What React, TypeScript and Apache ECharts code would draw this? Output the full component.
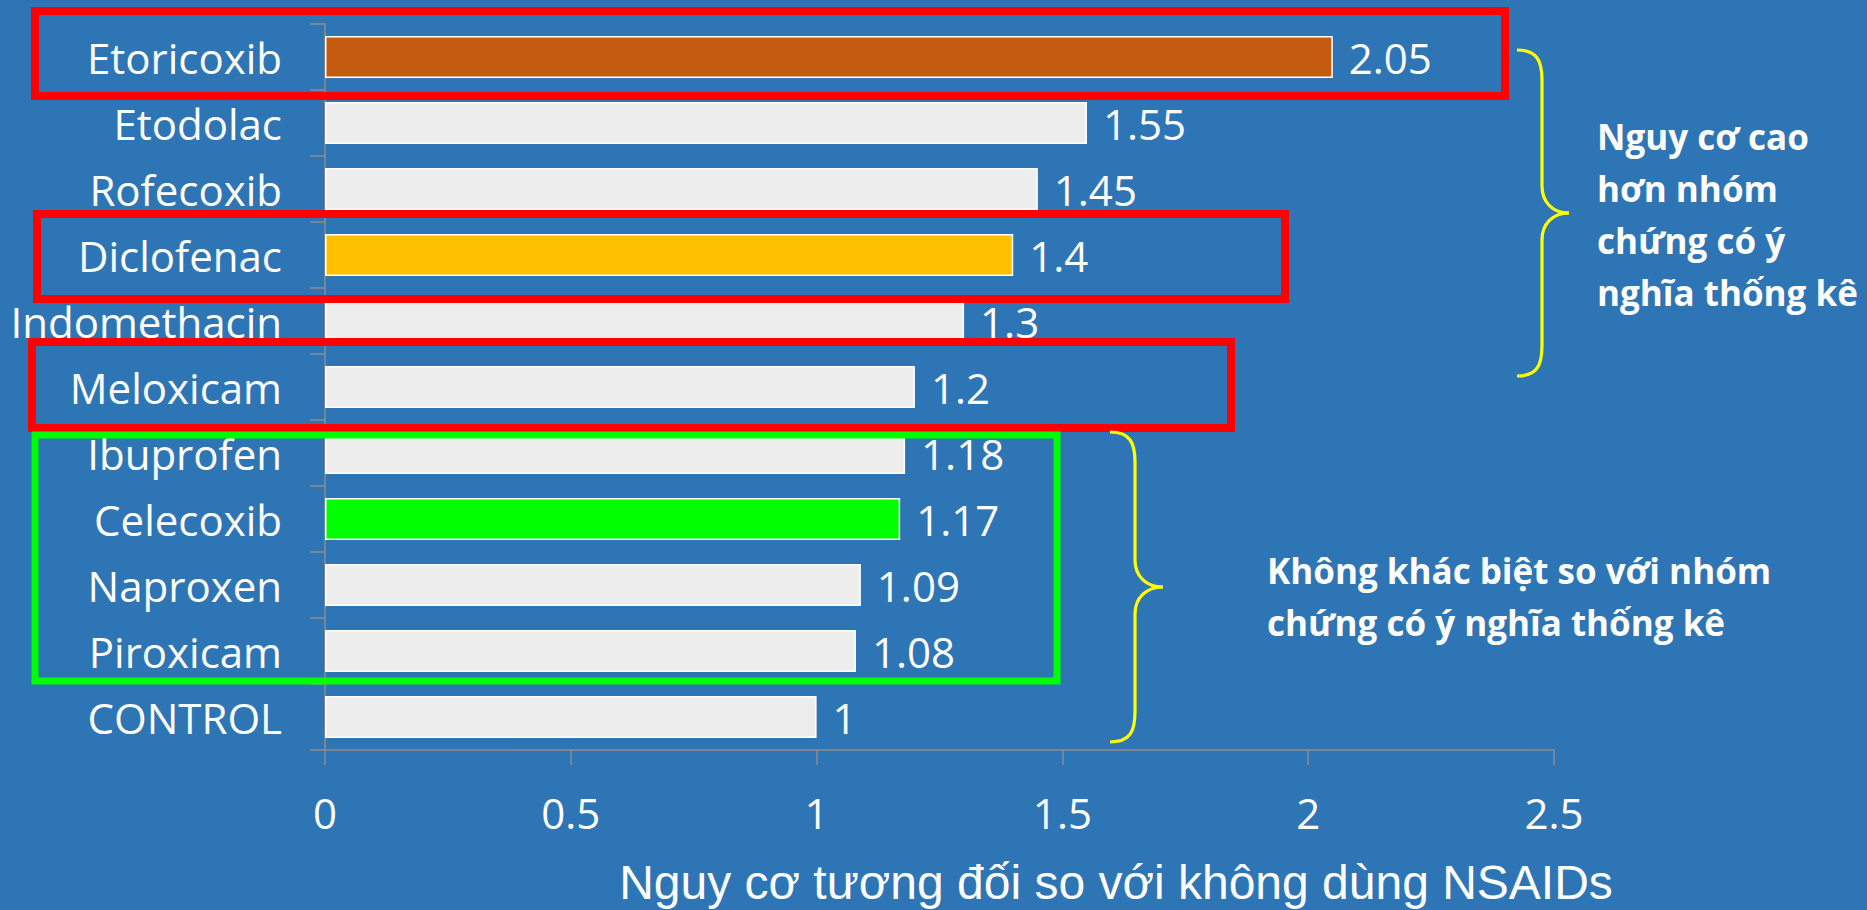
import React, { useEffect, useRef } from "react";
import * as echarts from "echarts";

// Relative cardiovascular risk of each NSAID versus no NSAID use
const categories = [
  "Etoricoxib",
  "Etodolac",
  "Rofecoxib",
  "Diclofenac",
  "Indomethacin",
  "Meloxicam",
  "Ibuprofen",
  "Celecoxib",
  "Naproxen",
  "Piroxicam",
  "CONTROL",
];
const relativeRisk = [2.05, 1.55, 1.45, 1.4, 1.3, 1.2, 1.18, 1.17, 1.09, 1.08, 1];
const barColors = [
  "#C55A11",
  "#EDEDED",
  "#EDEDED",
  "#FFC000",
  "#EDEDED",
  "#EDEDED",
  "#EDEDED",
  "#00FF00",
  "#EDEDED",
  "#EDEDED",
  "#EDEDED",
];
const axisMin = 0;
const axisMax = 2.5;
const axisStep = 0.5;

const axisTitle = "Nguy cơ tương đối so với không dùng NSAIDs";
const noteHigher = ["Nguy cơ cao", "hơn nhóm", "chứng có ý", "nghĩa thống kê"];
const noteSame = ["Không khác biệt so với nhóm", "chứng có ý nghĩa thống kê"];

const BG = "#2E75B6";
const AXIS_GREY = "#8C8C8C";
const FONT = "'Open Sans', 'Noto Sans', sans-serif";

// Curly brace "}" made of bezier segments and straight lines
function brace(x0: number, xm: number, xp: number, yTop: number, yMid: number, yBot: number) {
  const r = 30;
  const r2 = 27;
  const style = { stroke: "#FFFF00", lineWidth: 3.2, fill: "none" };
  const bez = (x1: number, y1: number, cpx1: number, cpy1: number, cpx2: number, cpy2: number, x2: number, y2: number) => ({
    type: "bezierCurve",
    z: 100,
    shape: { x1, y1, cpx1, cpy1, cpx2, cpy2, x2, y2 },
    style,
  });
  const line = (x1: number, y1: number, x2: number, y2: number) => ({
    type: "line",
    z: 100,
    shape: { x1, y1, x2, y2 },
    style,
  });
  return [
    bez(x0, yTop, x0 + (xm - x0) * 0.8, yTop, xm, yTop + r * 0.35, xm, yTop + r),
    line(xm, yTop + r, xm, yMid - r2),
    bez(xm, yMid - r2, xm, yMid - r2 * 0.4, xm + (xp - xm) * 0.4, yMid, xp, yMid),
    bez(xp, yMid, xm + (xp - xm) * 0.4, yMid, xm, yMid + r2 * 0.4, xm, yMid + r2),
    line(xm, yMid + r2, xm, yBot - r),
    bez(xm, yBot - r, xm, yBot - r * 0.35, x0 + (xm - x0) * 0.8, yBot, x0, yBot),
  ];
}

function frame(x: number, y: number, width: number, height: number, color: string, lineWidth: number) {
  return {
    type: "rect",
    z: 100,
    shape: { x, y, width, height },
    style: { fill: "none", stroke: color, lineWidth },
  };
}

export default function App() {
  const ref = useRef<HTMLDivElement>(null);

  useEffect(() => {
    if (!ref.current) return;
    const chart = echarts.init(ref.current, undefined, { renderer: "svg" });

    const option = {
      animation: false,
      backgroundColor: BG,
      grid: { left: 325, right: 313, top: 24, bottom: 160, containLabel: false },
      xAxis: {
        type: "value",
        min: axisMin,
        max: axisMax,
        interval: axisStep,
        axisLine: { show: true, lineStyle: { color: AXIS_GREY, width: 1.5 } },
        axisTick: { show: true, length: 15, lineStyle: { color: AXIS_GREY, width: 1.5 } },
        splitLine: { show: false },
        axisLabel: {
          color: "#FFFFFF",
          fontSize: 42,
          fontFamily: FONT,
          margin: 62,
          verticalAlign: "middle",
        },
      },
      yAxis: {
        type: "category",
        inverse: true,
        data: categories,
        axisLine: { show: true, lineStyle: { color: AXIS_GREY, width: 1.5 } },
        axisTick: { show: true, length: 15, lineStyle: { color: AXIS_GREY, width: 1.5 } },
        axisLabel: {
          color: "#FFFFFF",
          fontSize: 42,
          fontFamily: FONT,
          margin: 43,
        },
      },
      series: [
        {
          type: "bar",
          barCategoryGap: "36%",
          data: relativeRisk.map((v, i) => ({
            value: v,
            itemStyle: { color: barColors[i] },
          })),
          itemStyle: { borderColor: "#FFFFFF", borderWidth: 1.5 },
          label: {
            show: true,
            position: "right",
            distance: 16,
            color: "#FFFFFF",
            fontSize: 42,
            fontFamily: FONT,
          },
        },
      ],
      graphic: [
        frame(35, 11, 1470, 85, "#FF0000", 8),
        frame(37, 214, 1248, 85, "#FF0000", 8),
        frame(32, 342, 1199, 86, "#FF0000", 8),
        frame(35, 435, 1022, 246, "#00FF00", 7),
        ...brace(1517, 1542, 1569, 50, 213, 376),
        ...brace(1110, 1135, 1163, 432, 587, 742),
        {
          type: "text",
          z: 100,
          x: 1597,
          y: 214,
          style: {
            text: noteHigher.join("\n"),
            fill: "#FFFFFF",
            font: `bold 35px ${FONT}`,
            lineHeight: 52,
            align: "left",
            verticalAlign: "middle",
          },
        },
        {
          type: "text",
          z: 100,
          x: 1267,
          y: 596,
          style: {
            text: noteSame.join("\n"),
            fill: "#FFFFFF",
            font: `bold 35px ${FONT}`,
            lineHeight: 52,
            align: "left",
            verticalAlign: "middle",
          },
        },
        {
          type: "text",
          z: 100,
          x: 1116,
          y: 882,
          style: {
            text: axisTitle,
            fill: "#FFFFFF",
            font: "48px 'Liberation Sans', Arial, sans-serif",
            align: "center",
            verticalAlign: "middle",
          },
        },
      ],
    };

    chart.setOption(option as any);
    return () => chart.dispose();
  }, []);

  return (
    <div
      ref={ref}
      style={{ position: "absolute", left: 0, top: 0, width: 1867, height: 910 }}
    />
  );
}
